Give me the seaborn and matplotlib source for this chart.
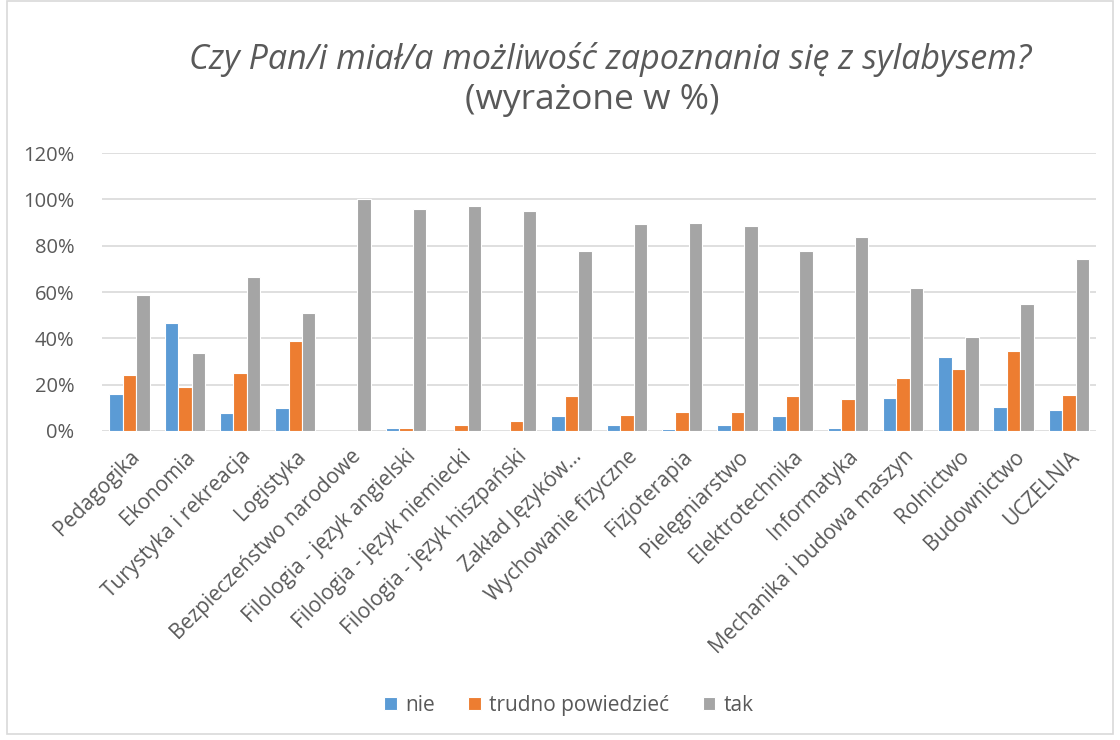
import matplotlib
matplotlib.use("Agg")
import matplotlib.pyplot as plt
import matplotlib.ticker as mticker
import pandas as pd
import seaborn as sns

CATEGORIES = [
    "Pedagogika", "Ekonomia", "Turystyka i rekreacja", "Logistyka",
    "Bezpieczeństwo narodowe", "Filologia - język angielski",
    "Filologia - język niemiecki", "Filologia - język hiszpański",
    "Zakład Języków...", "Wychowanie fizyczne", "Fizjoterapia",
    "Pielęgniarstwo", "Elektrotechnika", "Informatyka",
    "Mechanika i budowa maszyn", "Rolnictwo", "Budownictwo", "UCZELNIA",
]
NIE = [16, 46.5, 7.7, 9.8, 0, 1.4, 0, 0, 6.5, 2.6, 1.0, 2.6, 6.5, 1.4, 14.3, 32.1, 10.4, 9.2]
TRUDNO = [24, 18.8, 25, 38.7, 0, 1.4, 2.6, 4.3, 14.9, 7.1, 8.2, 8.2, 14.9, 13.7, 23.1, 26.6, 34.4, 15.5]
TAK = [58.8, 33.7, 66.5, 51, 100, 96, 97.3, 95, 77.7, 89.5, 89.9, 88.7, 77.7, 83.8, 61.6, 40.5, 54.9, 74.4]
SERIES = ["nie", "trudno powiedzieć", "tak"]
COLORS = ["#5B9BD5", "#ED7D31", "#A5A5A5"]
TEXT_COLOR = "#595959"


def build_frame() -> pd.DataFrame:
    rows = []
    for name, values in zip(SERIES, [NIE, TRUDNO, TAK]):
        for cat, v in zip(CATEGORIES, values):
            rows.append({"kierunek": cat, "odpowiedz": name, "procent": v})
    return pd.DataFrame(rows)


def main() -> None:
    sns.set_theme(style="white")
    plt.rcParams["font.family"] = ["Open Sans", "DejaVu Sans"]

    df = build_frame()
    fig = plt.figure(figsize=(11.2, 7.4), dpi=100)
    ax = fig.add_axes([0.091, 0.4176, 0.888, 0.3754])

    sns.barplot(
        data=df, x="kierunek", y="procent", hue="odpowiedz",
        hue_order=SERIES, palette=COLORS, saturation=1, width=0.73,
        edgecolor="white", linewidth=0.8, ax=ax, legend=True,
    )

    ax.set_ylim(0, 120)
    ax.yaxis.set_major_locator(mticker.MultipleLocator(20))
    ax.yaxis.set_major_formatter(mticker.FuncFormatter(lambda v, _: f"{v:.0f}%"))
    ax.grid(axis="y", color="#D9D9D9", linewidth=1.2)
    ax.set_axisbelow(True)
    for side in ["top", "right", "left", "bottom"]:
        ax.spines[side].set_visible(False)
    ax.set_xlabel("")
    ax.set_ylabel("")
    ax.tick_params(axis="y", length=0, pad=20, labelsize=14.5, labelcolor=TEXT_COLOR)
    ax.tick_params(axis="x", length=0, pad=11, labelsize=15, labelcolor=TEXT_COLOR)
    ax.set_xlim(-0.5, len(CATEGORIES) - 0.5)
    plt.setp(ax.get_xticklabels(), rotation=45, ha="right", rotation_mode="anchor")

    handles, labels = ax.get_legend_handles_labels()
    ax.get_legend().remove()
    fig.legend(
        handles, labels, loc="center", bbox_to_anchor=(0.508, 0.047), ncol=3,
        frameon=False, fontsize=15, labelcolor=TEXT_COLOR,
        handlelength=0.6, handleheight=0.6, handletextpad=0.4, columnspacing=1.6,
    )

    fig.text(0.545, 0.919, "Czy Pan/i miał/a możliwość zapoznania się z sylabysem?",
             ha="center", va="center", fontsize=24.5, style="italic", color=TEXT_COLOR)
    fig.text(0.529, 0.865, "(wyrażone w %)", ha="center", va="center",
             fontsize=25.5, color=TEXT_COLOR)

    fig.patches.append(plt.Rectangle((0.006, 0.008), 0.988, 0.99, transform=fig.transFigure,
                                     fill=False, edgecolor="#D9D9D9", linewidth=1.2))

    fig.savefig("out.png", dpi=100)


if __name__ == "__main__":
    main()
